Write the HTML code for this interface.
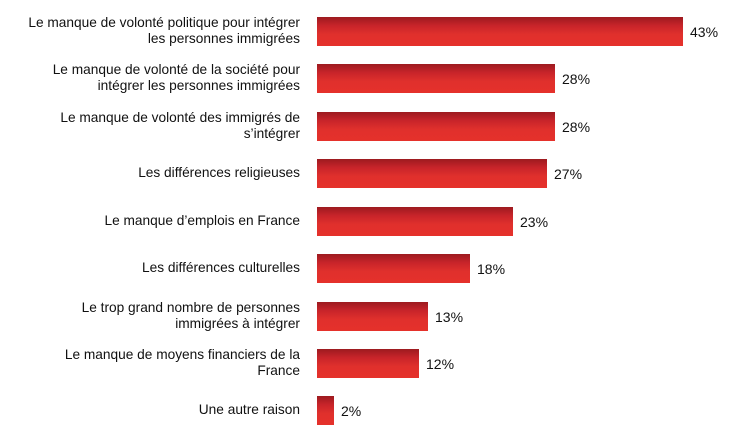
<!DOCTYPE html>
<html><head><meta charset="utf-8"><style>
body{margin:0;width:732px;height:439px;background:#fff;font-family:"Liberation Sans",Arial,sans-serif;color:#111;position:relative;overflow:hidden}
.l{position:absolute;right:432px;width:320px;text-align:right;font-size:13.7px;line-height:16px;transform:translateY(-50%)}
.b{position:absolute;left:317px;height:29px;background:linear-gradient(#9c1a1f 0%,#c8242a 30%,#e0302c 60%,#e5312b 100%)}
.v{position:absolute;font-size:14px;transform:translateY(-50%)}
</style></head><body>
<div class="l" style="top:31px">Le manque de volonté politique pour intégrer<br>les personnes immigrées</div>
<div class="b" style="top:17px;width:366px"></div><div class="v" style="top:32px;left:690px">43%</div>
<div class="l" style="top:78px">Le manque de volonté de la société pour<br>intégrer les personnes immigrées</div>
<div class="b" style="top:64px;width:238px"></div><div class="v" style="top:79px;left:562px">28%</div>
<div class="l" style="top:126px">Le manque de volonté des immigrés de<br>s’intégrer</div>
<div class="b" style="top:112px;width:238px"></div><div class="v" style="top:127px;left:562px">28%</div>
<div class="l" style="top:173px">Les différences religieuses</div>
<div class="b" style="top:159px;width:230px"></div><div class="v" style="top:174px;left:554px">27%</div>
<div class="l" style="top:221px">Le manque d’emplois en France</div>
<div class="b" style="top:207px;width:196px"></div><div class="v" style="top:222px;left:520px">23%</div>
<div class="l" style="top:268px">Les différences culturelles</div>
<div class="b" style="top:254px;width:153px"></div><div class="v" style="top:269px;left:477px">18%</div>
<div class="l" style="top:316px">Le trop grand nombre de personnes<br>immigrées à intégrer</div>
<div class="b" style="top:302px;width:111px"></div><div class="v" style="top:317px;left:435px">13%</div>
<div class="l" style="top:363px">Le manque de moyens financiers de la<br>France</div>
<div class="b" style="top:349px;width:102px"></div><div class="v" style="top:364px;left:426px">12%</div>
<div class="l" style="top:410px">Une autre raison</div>
<div class="b" style="top:396px;width:17px"></div><div class="v" style="top:411px;left:341px">2%</div>
</body></html>
